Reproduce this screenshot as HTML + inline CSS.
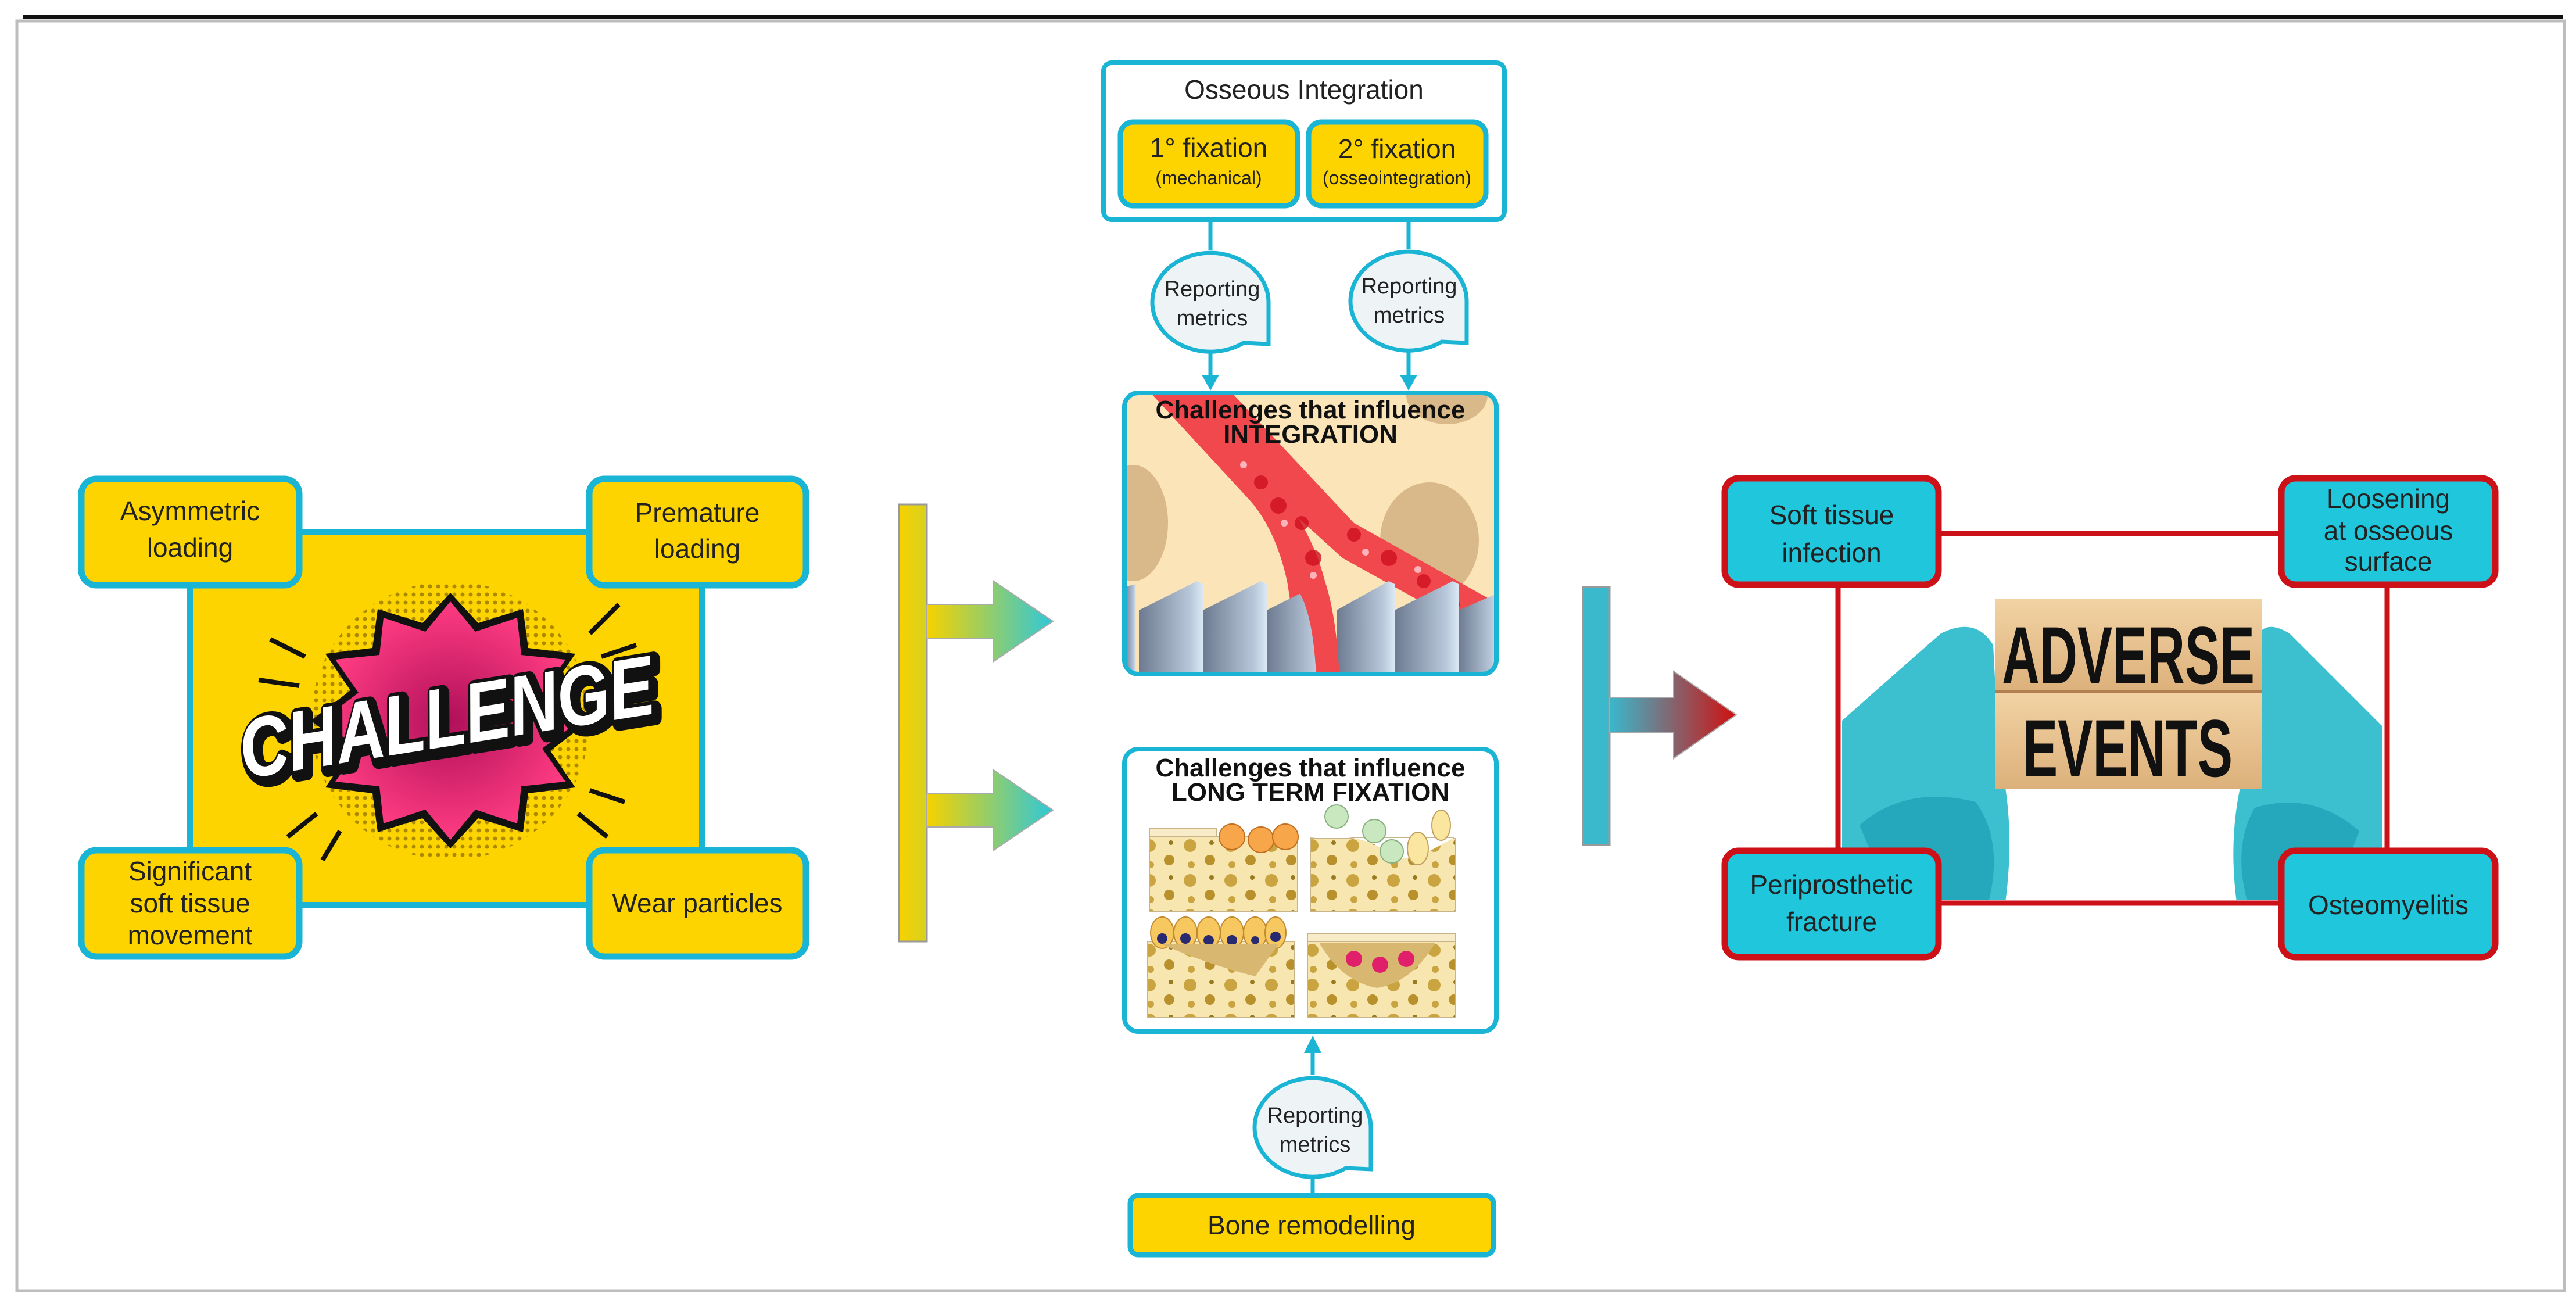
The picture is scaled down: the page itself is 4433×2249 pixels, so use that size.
<!DOCTYPE html>
<html><head><meta charset="utf-8"><style>
html,body{margin:0;padding:0;background:#fff;}
svg{display:block;}
text{font-family:"Liberation Sans","DejaVu Sans",sans-serif;}
</style></head><body>
<svg width="4433" height="2249" viewBox="0 0 4433 2249" xmlns="http://www.w3.org/2000/svg">
<defs>
<linearGradient id="yg" x1="0" y1="0" x2="1" y2="0"><stop offset="0" stop-color="#f6d200"/><stop offset="1" stop-color="#2ec8d8"/></linearGradient>
<linearGradient id="rg" x1="0" y1="0" x2="1" y2="0"><stop offset="0" stop-color="#3ab8cc"/><stop offset="1" stop-color="#d01010"/></linearGradient>
<linearGradient id="yb" x1="0" y1="0" x2="1" y2="0"><stop offset="0" stop-color="#f6d200"/><stop offset="1" stop-color="#d8d020"/></linearGradient>
<linearGradient id="pil" x1="0" y1="0" x2="1" y2="0"><stop offset="0" stop-color="#6d7a90"/><stop offset="0.8" stop-color="#b8c8da"/><stop offset="1" stop-color="#dbe8f4"/></linearGradient>
<radialGradient id="pink" cx="0.5" cy="0.5" r="0.5"><stop offset="0" stop-color="#b0105a"/><stop offset="1" stop-color="#ff3c82"/></radialGradient>
<pattern id="dots" width="14" height="14" patternUnits="userSpaceOnUse"><circle cx="7" cy="7" r="3.5" fill="#6b4a00" opacity="0.55"/></pattern>
<pattern id="bone" width="70" height="60" patternUnits="userSpaceOnUse"><rect width="70" height="60" fill="#f8e6b0"/><circle cx="18" cy="15" r="11" fill="#c9a440"/><circle cx="52" cy="40" r="9" fill="#b8902c"/><circle cx="55" cy="10" r="4" fill="#9a7a20"/><circle cx="20" cy="48" r="6" fill="#c9a440"/></pattern>
<linearGradient id="wood" x1="0" y1="0" x2="0" y2="1"><stop offset="0" stop-color="#f2d3a4"/><stop offset="1" stop-color="#dcb07a"/></linearGradient>
</defs>

<rect x="0" y="0" width="4433" height="2249" fill="#fff"/>
<rect x="40" y="26" width="4370" height="6" fill="#111"/>
<rect x="29" y="36" width="4384" height="2185" fill="none" stroke="#bdbdbd" stroke-width="5"/>

<!-- CHALLENGE panel -->
<rect x="327" y="915" width="881" height="642" fill="#fdd400" stroke="#1ab4d4" stroke-width="10"/>
<g transform="translate(775,1240)">
  <circle r="240" fill="url(#dots)"/>
  <polygon fill="#111" points="0,-220 48,-168 125,-192 134,-125 215,-115 172,-52 240,0 172,52 215,115 134,125 125,192 48,168 0,220 -48,168 -125,192 -134,125 -215,115 -172,52 -240,0 -172,-52 -215,-115 -134,-125 -125,-192 -48,-168"/>
  <polygon fill="url(#pink)" points="0,-205 43,-153 115,-177 122,-113 198,-105 158,-48 222,0 158,48 198,105 122,113 115,177 43,153 0,205 -43,153 -115,177 -122,113 -198,105 -158,48 -222,0 -158,-48 -198,-105 -122,-113 -115,-177 -43,-153"/>
  <g stroke="#111" stroke-width="8">
    <line x1="-250" y1="-110" x2="-310" y2="-140"/><line x1="-260" y1="-60" x2="-330" y2="-70"/>
    <line x1="240" y1="-150" x2="290" y2="-200"/><line x1="260" y1="-110" x2="320" y2="-130"/>
    <line x1="-230" y1="160" x2="-280" y2="200"/><line x1="-190" y1="190" x2="-220" y2="240"/>
    <line x1="240" y1="120" x2="300" y2="140"/><line x1="220" y1="160" x2="270" y2="200"/>
  </g>
  <g transform="rotate(-9)">
    <text x="-360" y="50" font-size="145" font-weight="bold" font-style="italic" fill="#111" stroke="#111" stroke-width="26" stroke-linejoin="round" textLength="720" lengthAdjust="spacingAndGlyphs">CHALLENGE</text>
    <text x="-366" y="43" font-size="145" font-weight="bold" font-style="italic" fill="#fff" textLength="720" lengthAdjust="spacingAndGlyphs">CHALLENGE</text>
  </g>
</g>
<g fill="#fdd400" stroke="#1ab4d4" stroke-width="11">
  <rect x="140" y="824" width="375" height="183" rx="26"/>
  <rect x="1014" y="824" width="373" height="183" rx="26"/>
  <rect x="140" y="1463" width="375" height="183" rx="26"/>
  <rect x="1014" y="1463" width="373" height="183" rx="26"/>
</g>
<g font-size="46" fill="#222" text-anchor="middle">
  <text x="327" y="895">Asymmetric</text><text x="327" y="958">loading</text>
  <text x="1200" y="898">Premature</text><text x="1200" y="960">loading</text>
  <text x="327" y="1515">Significant</text><text x="327" y="1570">soft tissue</text><text x="327" y="1625">movement</text>
  <text x="1200" y="1570">Wear particles</text>
</g>

<!-- yellow bracket -->
<rect x="1547" y="868" width="48" height="752" fill="url(#yb)" stroke="#999" stroke-width="3"/>
<path d="M1595,1040 H1710 V1000 L1812,1069 L1710,1138 V1098 H1595 Z" fill="url(#yg)" stroke="#aaa" stroke-width="2"/>
<path d="M1595,1365 H1710 V1325 L1812,1394 L1710,1463 V1423 H1595 Z" fill="url(#yg)" stroke="#aaa" stroke-width="2"/>

<!-- Osseous Integration -->
<rect x="1899" y="108" width="690" height="270" rx="14" fill="#fff" stroke="#1ab4d4" stroke-width="8"/>
<text x="2244" y="170" text-anchor="middle" font-size="46" fill="#222">Osseous Integration</text>
<rect x="1928" y="210" width="305" height="144" rx="22" fill="#fdd400" stroke="#1ab4d4" stroke-width="9"/>
<rect x="2252" y="210" width="305" height="144" rx="22" fill="#fdd400" stroke="#1ab4d4" stroke-width="9"/>
<text x="2080" y="270" text-anchor="middle" font-size="46" fill="#222">1° fixation</text>
<text x="2080" y="317" text-anchor="middle" font-size="32" fill="#222">(mechanical)</text>
<text x="2404" y="272" text-anchor="middle" font-size="46" fill="#222">2° fixation</text>
<text x="2404" y="317" text-anchor="middle" font-size="32" fill="#222">(osseointegration)</text>

<g stroke="#1ab4d4" stroke-width="7" fill="none">
  <line x1="2083" y1="378" x2="2083" y2="430"/><line x1="2424" y1="378" x2="2424" y2="428"/>
  <line x1="2083" y1="595" x2="2083" y2="648"/><line x1="2424" y1="595" x2="2424" y2="648"/>
  <line x1="2259" y1="1810" x2="2259" y2="1850"/><line x1="2259" y1="2015" x2="2259" y2="2055"/>
</g>
<g fill="#1ab4d4">
  <polygon points="2068,645 2098,645 2083,672"/>
  <polygon points="2409,645 2439,645 2424,672"/>
  <polygon points="2244,1812 2274,1812 2259,1782"/>
</g>
<g fill="#eef3f6" stroke="#1ab4d4" stroke-width="7">
  <path d="M2140,590 A100,85 0 1 1 2183,520 L2183,592 Z"/>
  <path d="M2481,588 A100,85 0 1 1 2524,518 L2524,590 Z"/>
  <path d="M2316,2010 A100,85 0 1 1 2359,1940 L2359,2012 Z"/>
</g>
<g font-size="38" fill="#222" text-anchor="middle">
  <text x="2086" y="510">Reporting</text><text x="2086" y="560">metrics</text>
  <text x="2425" y="505">Reporting</text><text x="2425" y="555">metrics</text>
  <text x="2263" y="1932">Reporting</text><text x="2263" y="1982">metrics</text>
</g>

<!-- Integration image -->
<clipPath id="c1"><rect x="1935" y="676" width="640" height="484" rx="24"/></clipPath>
<g clip-path="url(#c1)">
  <rect x="1930" y="670" width="650" height="495" fill="#fae4b8"/>
  <ellipse cx="1950" cy="900" rx="60" ry="100" fill="#d9b98a"/>
  <ellipse cx="2460" cy="930" rx="85" ry="100" fill="#d9b98a"/>
  <ellipse cx="2160" cy="1160" rx="85" ry="90" fill="#d9b98a"/>
  <ellipse cx="2490" cy="680" rx="70" ry="50" fill="#d9b98a"/>
  <path d="M1980,676 L2050,676 L2200,840 Q2260,920 2280,1000 L2300,1160 L2240,1160 L2215,1000 Q2195,910 2150,860 Z" fill="#f0484c"/>
  <path d="M2050,676 L2120,676 L2330,900 L2580,1040 L2580,1110 L2310,960 L2200,860 Z" fill="#f0484c"/>
  <g fill="#d01020" opacity="0.8">
    <circle cx="2170" cy="830" r="12"/><circle cx="2200" cy="870" r="14"/><circle cx="2240" cy="900" r="12"/><circle cx="2260" cy="960" r="14"/><circle cx="2250" cy="1020" r="12"/><circle cx="2270" cy="1080" r="13"/><circle cx="2330" cy="920" r="12"/><circle cx="2390" cy="960" r="14"/><circle cx="2450" cy="1000" r="12"/><circle cx="2500" cy="1040" r="12"/>
  </g>
  <g fill="#ffd0d6" opacity="0.8">
    <circle cx="2140" cy="800" r="6"/><circle cx="2210" cy="900" r="6"/><circle cx="2260" cy="990" r="6"/><circle cx="2350" cy="950" r="6"/><circle cx="2440" cy="980" r="6"/>
  </g>
  <g fill="url(#pil)">
    <path d="M1935,1010 L1955,1005 L1955,1165 L1935,1165Z"/>
    <path d="M1960,1050 L2060,1000 L2070,1005 L2070,1165 L1960,1165Z"/>
    <path d="M2070,1050 L2170,1000 L2180,1005 L2180,1165 L2070,1165Z"/>
    <path d="M2180,1050 L2280,1000 L2280,1165 L2180,1165Z"/>
    <path d="M2300,1050 L2390,1000 L2400,1005 L2400,1165 L2300,1165Z"/>
    <path d="M2400,1050 L2500,1000 L2510,1005 L2510,1165 L2400,1165Z"/>
    <path d="M2510,1050 L2580,1020 L2580,1165 L2510,1165Z"/>
  </g>
  <path d="M2230,1010 Q2260,1050 2265,1165 L2305,1165 Q2300,1060 2280,1000 Z" fill="#f0484c"/>
</g>
<rect x="1935" y="676" width="640" height="484" rx="24" fill="none" stroke="#1ab4d4" stroke-width="8"/>
<text x="2255" y="720" text-anchor="middle" font-size="44" font-weight="bold" fill="#111">Challenges that influence</text>
<text x="2255" y="762" text-anchor="middle" font-size="44" font-weight="bold" fill="#111">INTEGRATION</text>

<!-- Long term fixation -->
<rect x="1935" y="1289" width="640" height="486" rx="24" fill="#fff" stroke="#1ab4d4" stroke-width="8"/>
<text x="2255" y="1336" text-anchor="middle" font-size="44" font-weight="bold" fill="#111">Challenges that influence</text>
<text x="2255" y="1378" text-anchor="middle" font-size="44" font-weight="bold" fill="#111">LONG TERM FIXATION</text>
<g stroke="#c8b48a" stroke-width="2">
  <rect x="1978" y="1440" width="255" height="128" fill="url(#bone)"/>
  <rect x="2255" y="1442" width="250" height="126" fill="url(#bone)"/>
  <rect x="1975" y="1620" width="252" height="131" fill="url(#bone)"/>
  <rect x="2250" y="1620" width="255" height="131" fill="url(#bone)"/>
</g>
<rect x="1978" y="1426" width="115" height="14" fill="#f8ecc8" stroke="#c8b48a" stroke-width="2"/>
<g fill="#f7a64a" stroke="#c07020" stroke-width="2"><ellipse cx="2120" cy="1440" rx="22" ry="22"/><ellipse cx="2170" cy="1445" rx="22" ry="22"/><ellipse cx="2212" cy="1440" rx="22" ry="22"/></g>
<path d="M2255,1442 Q2360,1430 2400,1480 L2450,1470 L2505,1440 L2505,1442" fill="#fff"/>
<g fill="#c9e8c0" stroke="#88b080" stroke-width="2"><circle cx="2300" cy="1405" r="20"/><circle cx="2365" cy="1430" r="20"/><circle cx="2395" cy="1465" r="20"/></g>
<g fill="#fbe6a0" stroke="#c0a060" stroke-width="2"><ellipse cx="2440" cy="1460" rx="18" ry="28"/><ellipse cx="2480" cy="1420" rx="16" ry="26"/></g>
<g fill="#f7c860" stroke="#c08a30" stroke-width="2"><ellipse cx="2000" cy="1605" rx="20" ry="27"/><ellipse cx="2040" cy="1605" rx="20" ry="27"/><ellipse cx="2080" cy="1605" rx="20" ry="27"/><ellipse cx="2120" cy="1605" rx="20" ry="27"/><ellipse cx="2160" cy="1605" rx="20" ry="27"/><ellipse cx="2195" cy="1605" rx="18" ry="27"/></g>
<g fill="#2a2a70"><circle cx="2000" cy="1615" r="9"/><circle cx="2040" cy="1615" r="9"/><circle cx="2080" cy="1618" r="9"/><circle cx="2120" cy="1618" r="9"/><circle cx="2160" cy="1618" r="7"/><circle cx="2195" cy="1612" r="9"/></g>
<path d="M2000,1625 Q2080,1660 2160,1680 L2200,1625 Z" fill="#d8b870"/>
<rect x="2250" y="1606" width="255" height="14" fill="#f8ecc8" stroke="#c8b48a" stroke-width="2"/>
<path d="M2270,1622 L2470,1622 Q2430,1690 2370,1700 Q2310,1690 2270,1622Z" fill="#d8b870"/>
<g fill="#e0206a"><circle cx="2330" cy="1650" r="14"/><circle cx="2375" cy="1660" r="14"/><circle cx="2420" cy="1650" r="14"/></g>

<rect x="1945" y="2057" width="625" height="102" rx="14" fill="#fdd400" stroke="#1ab4d4" stroke-width="9"/>
<text x="2257" y="2124" text-anchor="middle" font-size="46" fill="#222">Bone remodelling</text>

<!-- red bracket -->
<rect x="2724" y="1010" width="46" height="444" fill="#3ab8cc" stroke="#999" stroke-width="3"/>
<path d="M2770,1200 H2880 V1155 L2988,1230 L2880,1305 V1260 H2770 Z" fill="url(#rg)" stroke="#aaa" stroke-width="2"/>

<!-- Adverse events -->
<rect x="3163" y="918" width="945" height="636" fill="#fff" stroke="#cc1118" stroke-width="9"/>
<clipPath id="c2"><rect x="3168" y="923" width="935" height="626"/></clipPath>
<g clip-path="url(#c2)">
  <path d="M3170,1240 Q3260,1160 3340,1090 Q3400,1060 3430,1110 L3440,1300 Q3470,1420 3450,1560 L3170,1560 Z" fill="#3cc0d0"/>
  <path d="M3200,1420 Q3280,1350 3400,1380 Q3450,1450 3420,1560 L3260,1560 Z" fill="#26a8bc"/>
  <path d="M4100,1250 Q4020,1170 3940,1090 Q3890,1060 3880,1110 L3870,1300 Q3830,1420 3850,1560 L4100,1560 Z" fill="#3cc0d0"/>
  <path d="M4060,1430 Q3980,1360 3880,1390 Q3840,1460 3870,1560 L4010,1560 Z" fill="#26a8bc"/>
  <rect x="3433" y="1030" width="460" height="160" fill="url(#wood)"/>
  <rect x="3433" y="1190" width="460" height="168" fill="url(#wood)"/>
  <line x1="3433" y1="1190" x2="3893" y2="1190" stroke="#b08050" stroke-width="4"/>
</g>
<text x="3445" y="1176" font-size="140" font-weight="bold" fill="#111" textLength="435" lengthAdjust="spacingAndGlyphs">ADVERSE</text>
<text x="3481" y="1336" font-size="140" font-weight="bold" fill="#111" textLength="361" lengthAdjust="spacingAndGlyphs">EVENTS</text>
<g fill="#1fc6dc" stroke="#cc1118" stroke-width="11">
  <rect x="2968" y="823" width="368" height="183" rx="24"/>
  <rect x="3926" y="823" width="368" height="183" rx="24"/>
  <rect x="2968" y="1464" width="368" height="183" rx="24"/>
  <rect x="3926" y="1464" width="368" height="183" rx="24"/>
</g>
<g font-size="46" fill="#222" text-anchor="middle">
  <text x="3152" y="902">Soft tissue</text><text x="3152" y="967">infection</text>
  <text x="4110" y="874">Loosening</text><text x="4110" y="929">at osseous</text><text x="4110" y="982">surface</text>
  <text x="3152" y="1538">Periprosthetic</text><text x="3152" y="1602">fracture</text>
  <text x="4110" y="1573">Osteomyelitis</text>
</g>
</svg>
</body></html>
